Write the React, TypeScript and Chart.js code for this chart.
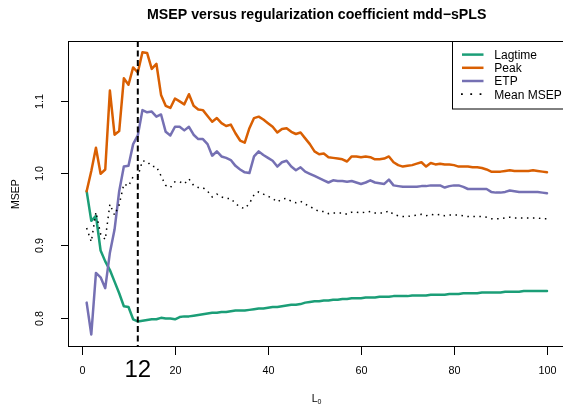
import React, { useEffect, useRef } from "react";
import { Chart, registerables } from "chart.js";

Chart.register(...registerables);

// ---------------- data ----------------
const L0 = [
  1, 2, 3, 4, 5, 6, 7, 8, 9, 10, 11, 12, 13, 14, 15, 16, 17, 18, 19, 20,
  21, 22, 23, 24, 25, 26, 27, 28, 29, 30, 31, 32, 33, 34, 35, 36, 37, 38, 39, 40,
  41, 42, 43, 44, 45, 46, 47, 48, 49, 50, 51, 52, 53, 54, 55, 56, 57, 58, 59, 60,
  61, 62, 63, 64, 65, 66, 67, 68, 69, 70, 71, 72, 73, 74, 75, 76, 77, 78, 79, 80,
  81, 82, 83, 84, 85, 86, 87, 88, 89, 90, 91, 92, 93, 94, 95, 96, 97, 98, 99, 100,
];

const lagtime = [
  0.975, 0.934, 0.941, 0.893, 0.878, 0.866, 0.85, 0.834, 0.816, 0.815,
  0.798, 0.795, 0.796, 0.797, 0.798, 0.798, 0.8, 0.799, 0.799, 0.798,
  0.801, 0.802, 0.802, 0.803, 0.804, 0.805, 0.806, 0.807, 0.807, 0.808,
  0.808, 0.809, 0.81, 0.81, 0.81, 0.811, 0.812, 0.813, 0.813, 0.814,
  0.815, 0.815, 0.816, 0.817, 0.818, 0.818, 0.819, 0.821, 0.822, 0.823,
  0.823, 0.824, 0.824, 0.825, 0.825, 0.826, 0.826, 0.827, 0.827, 0.827,
  0.828, 0.828, 0.828, 0.829, 0.829, 0.829, 0.83, 0.83, 0.83, 0.83,
  0.831, 0.831, 0.831, 0.831, 0.832, 0.832, 0.832, 0.832, 0.833, 0.833,
  0.833, 0.834, 0.834, 0.834, 0.834, 0.835, 0.835, 0.835, 0.835, 0.835,
  0.836, 0.836, 0.836, 0.836, 0.837, 0.837, 0.837, 0.837, 0.837, 0.837,
];

const peak = [
  0.975, 1.003, 1.035, 0.999, 1.005, 1.114, 1.053, 1.058, 1.131, 1.122,
  1.146, 1.139, 1.167, 1.166, 1.144, 1.151, 1.108, 1.093, 1.09, 1.103,
  1.099, 1.095, 1.109, 1.093, 1.088, 1.087, 1.079, 1.071, 1.076, 1.069,
  1.065, 1.067, 1.055, 1.045, 1.042, 1.062, 1.076, 1.078, 1.074, 1.069,
  1.064, 1.056, 1.061, 1.062, 1.057, 1.054, 1.056, 1.048, 1.04, 1.03,
  1.026, 1.027, 1.022, 1.021, 1.02, 1.019, 1.016, 1.023, 1.023, 1.022,
  1.023, 1.022, 1.019, 1.019, 1.02, 1.023, 1.015, 1.011, 1.009, 1.01,
  1.011, 1.013, 1.015, 1.009, 1.014, 1.012, 1.013, 1.012, 1.012, 1.011,
  1.009, 1.009, 1.009, 1.008, 1.008, 1.007, 1.005, 1.002, 1.002, 1.002,
  1.003, 1.004, 1.003, 1.003, 1.003, 1.003, 1.004, 1.003, 1.002, 1.001,
];

const etp = [
  0.821, 0.777, 0.862, 0.856, 0.841, 0.89, 0.922, 0.975, 1.009, 1.01,
  1.04, 1.052, 1.087, 1.084, 1.085, 1.078, 1.081, 1.057, 1.052, 1.064,
  1.064, 1.059, 1.064, 1.053, 1.047, 1.047, 1.04, 1.024, 1.03, 1.023,
  1.021, 1.018, 1.01, 1.005, 1.001, 1.0, 1.023, 1.03, 1.025, 1.021,
  1.017, 1.009, 1.015, 1.017, 1.009, 1.004, 1.008, 1.002, 0.999, 0.996,
  0.993, 0.99, 0.987, 0.99, 0.989, 0.989, 0.988, 0.989, 0.987, 0.985,
  0.987, 0.99, 0.987, 0.986, 0.985, 0.991, 0.983, 0.982, 0.981, 0.981,
  0.981, 0.981, 0.982, 0.982, 0.983, 0.983, 0.983, 0.98, 0.982, 0.983,
  0.983, 0.981, 0.978, 0.978, 0.978, 0.978, 0.978, 0.974, 0.973, 0.973,
  0.974, 0.976, 0.975, 0.974, 0.974, 0.974, 0.974, 0.974, 0.973, 0.972,
];

const meanMsep = [
  0.924, 0.905, 0.946, 0.916, 0.908, 0.957, 0.942, 0.956, 0.985, 0.982,
  0.995, 0.995, 1.017, 1.016, 1.009, 1.009, 0.996, 0.983, 0.98, 0.988,
  0.988, 0.985, 0.992, 0.983, 0.98, 0.98, 0.975, 0.967, 0.971, 0.967,
  0.965, 0.965, 0.958, 0.953, 0.951, 0.958, 0.97, 0.974, 0.971, 0.968,
  0.965, 0.96, 0.964, 0.965, 0.961, 0.959, 0.961, 0.957, 0.954, 0.95,
  0.947, 0.947, 0.944, 0.945, 0.945, 0.945, 0.943, 0.946, 0.946, 0.945,
  0.946, 0.947, 0.945, 0.945, 0.945, 0.948, 0.943, 0.941, 0.94, 0.94,
  0.941, 0.942, 0.943, 0.941, 0.943, 0.942, 0.943, 0.941, 0.942, 0.942,
  0.942, 0.941, 0.94, 0.94, 0.94, 0.94, 0.939, 0.937, 0.937, 0.937,
  0.938, 0.939, 0.938, 0.938, 0.938, 0.938, 0.938, 0.938, 0.937, 0.937,
];

const seriesNames = ["Lagtime", "Peak", "ETP", "Mean MSEP"];
const seriesColors = ["#1B9E77", "#D95F02", "#7570B3", "#000000"];
const xTicks = [0, 20, 40, 60, 80, 100];
const yTicks = [0.8, 0.9, 1.0, 1.1];
const yTickLabels = ["0.8", "0.9", "1.0", "1.1"];
const selectedL0 = 12;
const titleText = "MSEP versus regularization coefficient mdd\u2212sPLS";
const yTitle = "MSEP";
const xTitle = "L";
const xTitleSub = "0";

// R-style axis limits (data range padded by 4%)
const X_R_MIN = -2.96;
const X_R_MAX = 103.96;

const FONT = "'Liberation Sans', Arial, Helvetica, sans-serif";

const rPlotPlugin = {
  id: "rPlot",
  afterDatasetsDraw(chart: any) {
    const { ctx, chartArea: a, scales } = chart;
    const x = scales.x;
    const y = scales.y;
    const rightEdge = x.getPixelForValue(X_R_MAX);
    ctx.save();

    // vertical dashed line at the selected L0
    const vx = x.getPixelForValue(selectedL0);
    ctx.beginPath();
    ctx.setLineDash([6, 3.5]);
    ctx.lineWidth = 2;
    ctx.strokeStyle = "#000";
    ctx.moveTo(vx, a.top);
    ctx.lineTo(vx, a.bottom);
    ctx.stroke();
    ctx.setLineDash([]);

    // box
    ctx.lineWidth = 1;
    ctx.strokeStyle = "#000";
    ctx.strokeRect(a.left + 0.5, a.top + 0.5, rightEdge - a.left, a.bottom - a.top - 1);

    // x ticks and labels
    ctx.fillStyle = "#000";
    ctx.font = `10.8px ${FONT}`;
    ctx.textAlign = "center";
    ctx.textBaseline = "alphabetic";
    xTicks.forEach((t) => {
      const px = Math.round(x.getPixelForValue(t)) + 0.5;
      ctx.beginPath();
      ctx.moveTo(px, a.bottom - 0.5);
      ctx.lineTo(px, a.bottom + 8);
      ctx.stroke();
      ctx.fillText(String(t), px, a.bottom + 26.5);
    });
    // highlighted L0 label
    ctx.font = `24px ${FONT}`;
    ctx.fillText(String(selectedL0), vx, a.bottom + 30);

    // x title with subscript
    ctx.font = `10.5px ${FONT}`;
    ctx.textAlign = "left";
    const cx = (a.left + rightEdge) / 2;
    ctx.fillText(xTitle, cx - 5, a.bottom + 54.5);
    ctx.font = `7px ${FONT}`;
    ctx.fillText(xTitleSub, cx + 0.8, a.bottom + 56.5);

    // y ticks and labels
    ctx.font = `10.8px ${FONT}`;
    ctx.textAlign = "center";
    yTicks.forEach((v, i) => {
      const py = Math.round(y.getPixelForValue(v)) + 0.5;
      ctx.beginPath();
      ctx.moveTo(a.left - 7, py);
      ctx.lineTo(a.left + 0.5, py);
      ctx.stroke();
      ctx.save();
      ctx.translate(a.left - 25.5, py);
      ctx.rotate(-Math.PI / 2);
      ctx.fillText(yTickLabels[i], 0, 0);
      ctx.restore();
    });

    // y title
    ctx.save();
    ctx.font = `10.5px ${FONT}`;
    ctx.translate(18.5, (a.top + a.bottom) / 2);
    ctx.rotate(-Math.PI / 2);
    ctx.fillText(yTitle, 0, 0);
    ctx.restore();

    // title
    ctx.font = `bold 14.2px ${FONT}`;
    ctx.textAlign = "center";
    ctx.fillText(titleText, cx, 18.5);

    // legend
    const lgLeft = 452;
    const lgTop = a.top;
    const lgBottom = 108.5;
    ctx.lineWidth = 1;
    ctx.strokeRect(lgLeft + 0.5, lgTop + 0.5, rightEdge - lgLeft + 10, lgBottom - lgTop);
    const rows = [54.6, 67.8, 81, 94.2];
    ctx.font = `12px ${FONT}`;
    ctx.textAlign = "left";
    seriesNames.forEach((name, i) => {
      const ry = rows[i];
      ctx.beginPath();
      ctx.strokeStyle = seriesColors[i];
      if (i === 3) {
        ctx.lineWidth = 1.8;
        ctx.setLineDash([1.8, 7.5]);
        ctx.lineCap = "butt";
        ctx.moveTo(461, ry);
        ctx.lineTo(484, ry);
      } else {
        ctx.lineWidth = 2.5;
        ctx.setLineDash([]);
        ctx.moveTo(462, ry);
        ctx.lineTo(483.5, ry);
      }
      ctx.stroke();
      ctx.setLineDash([]);
      ctx.fillStyle = "#000";
      ctx.fillText(name, 494.3, ry + 4.3);
    });

    ctx.restore();
  },
};

export default function App() {
  const canvasRef = useRef<HTMLCanvasElement | null>(null);

  useEffect(() => {
    const canvas = canvasRef.current;
    if (!canvas) return;
    const toPoints = (arr: number[]) => L0.map((l, i) => ({ x: l, y: arr[i] }));
    const chart = new Chart(canvas, {
      type: "line",
      data: {
        datasets: [
          {
            label: seriesNames[3],
            data: toPoints(meanMsep),
            borderColor: seriesColors[3],
            borderWidth: 1.5,
            borderDash: [1.5, 4.5],
            pointRadius: 0,
            tension: 0,
            fill: false,
            order: 1,
          },
          {
            label: seriesNames[2],
            data: toPoints(etp),
            borderColor: seriesColors[2],
            borderWidth: 2.5,
            borderJoinStyle: "round",
            borderCapStyle: "round",
            pointRadius: 0,
            tension: 0,
            fill: false,
            order: 2,
          },
          {
            label: seriesNames[1],
            data: toPoints(peak),
            borderColor: seriesColors[1],
            borderWidth: 2.5,
            borderJoinStyle: "round",
            borderCapStyle: "round",
            pointRadius: 0,
            tension: 0,
            fill: false,
            order: 3,
          },
          {
            label: seriesNames[0],
            data: toPoints(lagtime),
            borderColor: seriesColors[0],
            borderWidth: 2.5,
            borderJoinStyle: "round",
            borderCapStyle: "round",
            pointRadius: 0,
            tension: 0,
            fill: false,
            order: 4,
          },
        ],
      },
      options: {
        responsive: false,
        animation: false,
        devicePixelRatio: 1,
        events: [],
        layout: { padding: { left: 68, top: 41, right: 0, bottom: 61 } },
        plugins: {
          legend: { display: false },
          title: { display: false },
          tooltip: { enabled: false },
        },
        scales: {
          x: { type: "linear", min: -3.01, max: 103.44, display: false },
          y: { type: "linear", min: 0.7597, max: 1.1825, display: false },
        },
      },
      plugins: [rPlotPlugin],
    });
    return () => chart.destroy();
  }, []);

  return (
    <div style={{ position: "fixed", left: 0, top: 0, width: 563, height: 408, background: "#fff" }}>
      <canvas ref={canvasRef} width={563} height={408} style={{ display: "block", width: 563, height: 408 }} />
    </div>
  );
}
